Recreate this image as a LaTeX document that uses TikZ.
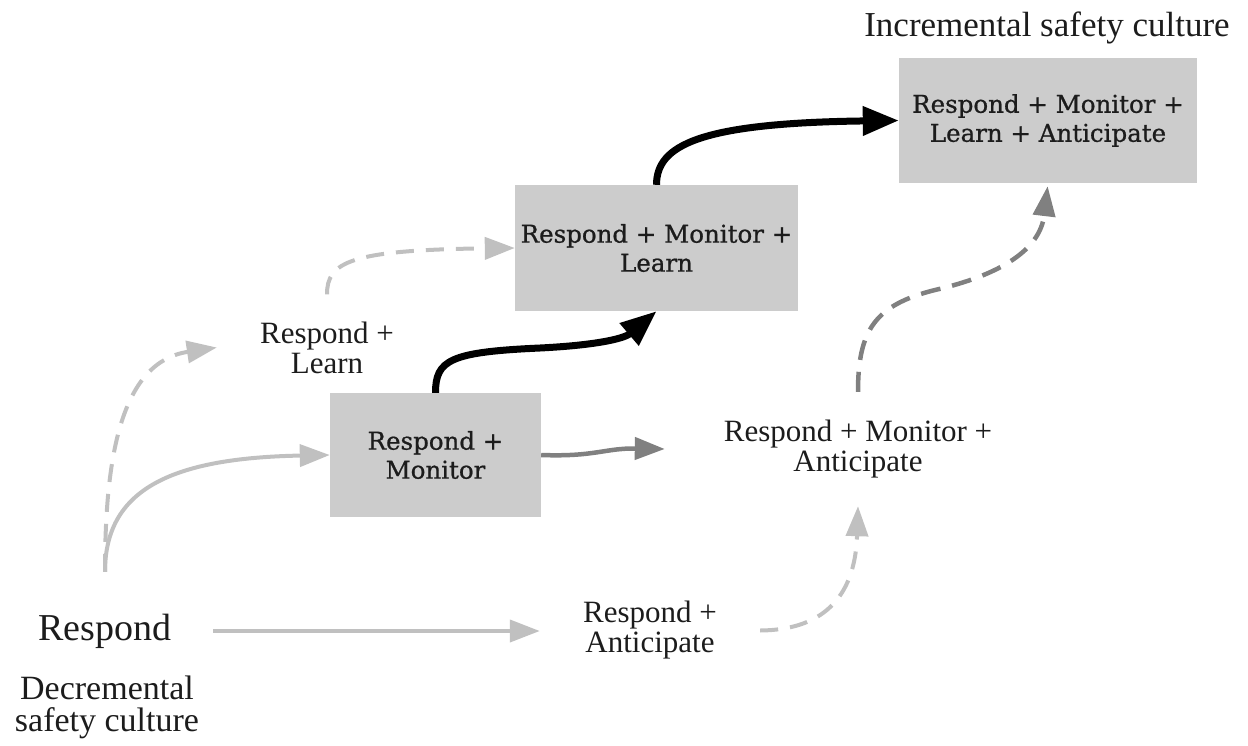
\documentclass[tikz,border=0pt]{standalone}
\usepackage{fontspec}
\setmainfont{Liberation Serif}
\newfontfamily\boxfont[FakeBold=0.8]{DejaVu Serif}
\usetikzlibrary{arrows.meta}
\definecolor{boxgray}{HTML}{CCCCCC}
\definecolor{lightarrow}{HTML}{C0C0C0}
\definecolor{darkarrow}{HTML}{808080}
\definecolor{ink}{HTML}{1C1C1C}

\begin{document}
\begin{tikzpicture}[x=1pt,y=-1pt,
  stage/.style={fill=boxgray, inner sep=0pt, align=center, text=ink,
    font=\boxfont\fontsize{24.5}{29}\selectfont},
  lbl/.style={inner sep=0pt, align=center, text=ink,
    font=\fontsize{31}{30}\selectfont},
  lightline/.style={draw=lightarrow, line width=4pt,
    -{Triangle[length=30pt,width=22pt]}},
  lightdash/.style={lightline, dash pattern=on 18pt off 12pt},
  darkline/.style={draw=darkarrow, line width=4.5pt,
    -{Triangle[length=30pt,width=22pt]}},
  darkdash/.style={darkline, dash pattern=on 20pt off 12pt},
  boldline/.style={draw=black, line width=7pt,
    -{Triangle[length=36pt,width=28pt]}},
]
\useasboundingbox (0,0) rectangle (1248,745);

% stages of the safety culture
\node[stage, minimum width=211pt, minimum height=124pt] (rm) at (435.5,455)
  {Respond +\\Monitor};
\node[stage, minimum width=283pt, minimum height=126pt] (rml) at (656.5,248)
  {Respond + Monitor +\\Learn};
\node[stage, minimum width=298pt, minimum height=125pt] (rmla) at (1048,120.5)
  {Respond + Monitor +\\Learn + Anticipate};

% plain labels (sized so that their anchors meet the connectors)
\node[lbl, minimum width=216pt, minimum height=118pt,
  font=\fontsize{38}{40}\selectfont] (resp) at (105,631) {Respond};
\node[lbl, font=\fontsize{34}{32}\selectfont] (dec) at (107,707)
  {Decremental\\safety culture};
\node[lbl, font=\fontsize{35}{36}\selectfont] (inc) at (1047,28)
  {Incremental safety culture};
\node[lbl, minimum width=220pt, minimum height=106pt] (rl) at (327,347.5)
  {Respond +\\Learn};
\node[lbl, minimum width=220pt, minimum height=10pt] (ra) at (650,630.5)
  {Respond +\\Anticipate};
\node[lbl, minimum width=386pt, minimum height=114pt] (rma) at (858,449)
  {Respond + Monitor +\\Anticipate};

% connectors
\draw[lightline] (resp.east) -- (resp.east -| ra.west);
\draw[lightdash] (ra.east) .. controls (820,630) and (855,600) .. (rma.south);
\draw[lightline] (resp.north) .. controls (105,490) and (170,458) .. (rm.west);
\draw[lightdash] (resp.north) .. controls (105,460) and (120,362) .. (rl.west);
\draw[lightdash] (rl.north) .. controls (327,262) and (350,250) .. (rml.west);
\draw[boldline] (rm.north) .. controls (435.5,360) and (450,352) .. (540,348)
  .. controls (600,345) and (625,338) .. (rml.south);
\draw[boldline] (rml.north) .. controls (656.5,145) and (700,123) .. (rmla.west);
\draw[darkline] (rm.east) .. controls (595,457) and (605,448) .. (rma.west);
\draw[darkdash, shorten >=3pt] (rma.north) .. controls (858,330) and (875,305) .. (935,290)
  .. controls (1000,275) and (1040,250) .. (rmla.south);
\end{tikzpicture}
\end{document}
